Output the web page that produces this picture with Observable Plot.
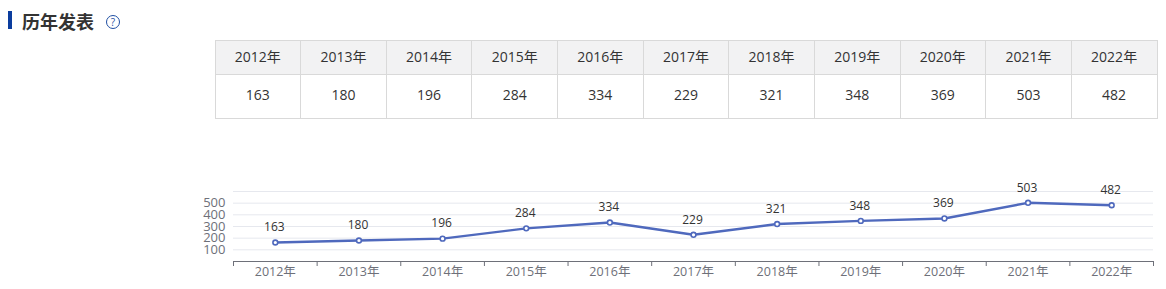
<!DOCTYPE html>
<html><head><meta charset="utf-8">
<script src="https://cdn.jsdelivr.net/npm/d3@7"></script>
<script src="https://cdn.jsdelivr.net/npm/@observablehq/plot@0.6"></script>
<style>
html,body{margin:0;padding:0;background:#fff;overflow:hidden}
body{width:1166px;height:289px;position:relative;font-family:"Open Sans","Noto Sans CJK SC",sans-serif}
#bar{position:absolute;left:8px;top:11px;width:4px;height:18px;background:#0b3d9e}
#title{position:absolute;left:22px;top:9px;font-size:18px;line-height:24px;font-weight:700;color:#333;font-family:"Noto Sans CJK SC",sans-serif}
#help{position:absolute;left:106px;top:15px;width:12px;height:12px;border:1.5px solid #1f4fa3;border-radius:50%;color:#1f4fa3;font-size:10px;line-height:12px;text-align:center}
table{position:absolute;left:214.5px;top:39.5px;width:943px;height:79px;border-collapse:collapse;table-layout:fixed;font-size:14px;color:#333}
td,th{border:1px solid #d9d9d9;text-align:center;padding:0 0 4px;font-weight:400}
th{background:#f2f2f3;height:31px;padding-bottom:2px}
#chart{position:absolute;left:0;top:170px}
#chart svg{display:block;overflow:visible}
</style></head><body>
<div id="bar"></div><div id="title">历年发表</div><div id="help">?</div>
<table><thead><tr id="hr"></tr></thead><tbody><tr id="vr"></tr></tbody></table>
<div id="chart"></div>
<script>
const years = ["2012年","2013年","2014年","2015年","2016年","2017年","2018年","2019年","2020年","2021年","2022年"];
const counts = [163,180,196,284,334,229,321,348,369,503,482];
const gridValues = [100,200,300,400,500,600];
const yLabels = [100,200,300,400,500];

document.getElementById("hr").innerHTML = years.map(y => `<th>${y}</th>`).join("");
document.getElementById("vr").innerHTML = counts.map(v => `<td>${v}</td>`).join("");

const rows = years.map((year,i) => ({pos:i+0.5, year, count:counts[i]}));
const edges = d3.range(years.length+1);
const font = '"Open Sans","Noto Sans CJK SC",sans-serif';

const plot = Plot.plot({
  width:1166, height:119,
  marginLeft:233, marginRight:13, marginTop:21, marginBottom:28,
  style:{fontFamily:font, background:"transparent", overflow:"visible"},
  x:{type:"linear", domain:[0,years.length]},
  y:{domain:[0,600]},
  marks:[
    Plot.ruleY(gridValues,{stroke:"#e6e8ee", strokeWidth:1}),
    Plot.axisY(yLabels,{anchor:"left", tickSize:0, tickPadding:8, label:null, fontSize:13, fill:"#6e7079"}),
    Plot.axisX(edges,{anchor:"bottom", tickSize:5, tickFormat:()=>"", label:null, stroke:"#6e7079"}),
    Plot.ruleY([0],{stroke:"#6e7079", strokeWidth:1}),
    Plot.axisX(rows.map(d=>d.pos),{anchor:"bottom", tickSize:0, tickPadding:6, label:null, fontSize:12.5, fill:"#6e7079", tickFormat:p=>years[Math.floor(p)]}),
    Plot.line(rows,{x:"pos", y:"count", stroke:"#4f69bd", strokeWidth:2.4, curve:"linear"}),
    Plot.dot(rows,{x:"pos", y:"count", r:2.4, fill:"#fff", stroke:"#4f69bd", strokeWidth:1.6}),
    Plot.text(rows,{x:"pos", y:"count", text:d=>String(d.count), dy:-15, dx:-1, fontSize:12, fill:"#333"})
  ]
});
document.getElementById("chart").appendChild(plot);
</script></body></html>
